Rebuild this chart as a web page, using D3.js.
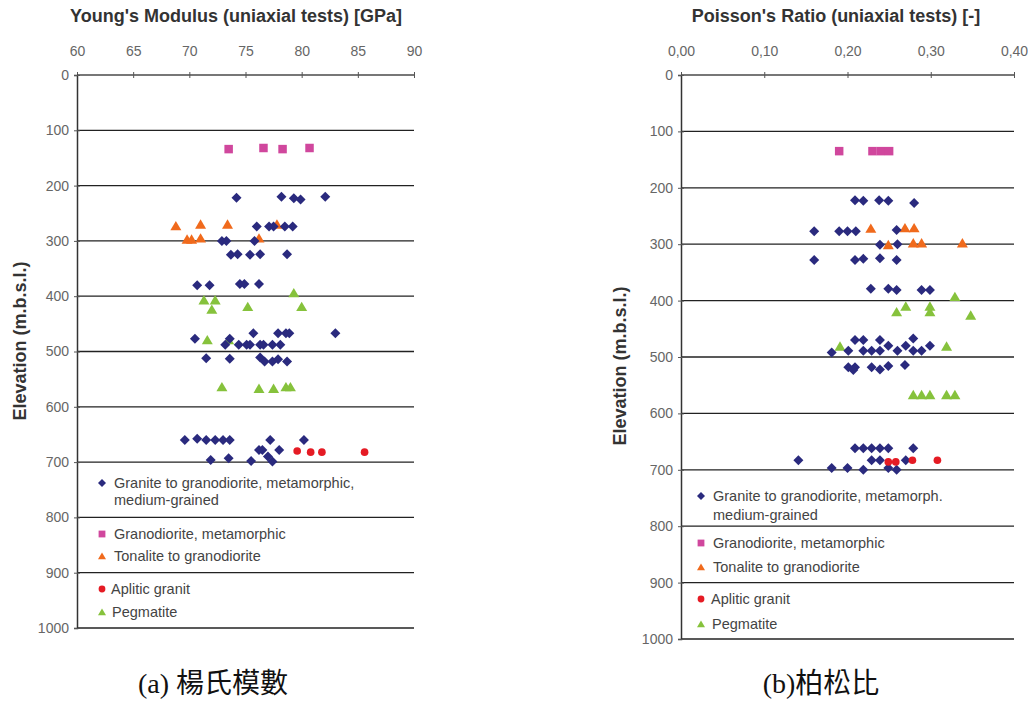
<!DOCTYPE html>
<html lang="en">
<head>
    <meta charset="utf-8">
    <title>Young's Modulus / Poisson's Ratio vs elevation</title>
    <script src="https://d3js.org/d3.v7.min.js"></script>
    <style>
        body { margin: 0; background: #fff; }
        text { font-family: "Liberation Sans", Arial, sans-serif; }
    </style>
</head>
<body>
<div id="chart"></div>

<script>
/* global d3 */

// elevation ticks (m.b.s.l.)
var elevTicks = [0, 100, 200, 300, 400, 500, 600, 700, 800, 900, 1000];
var ymTicks = [60, 65, 70, 75, 80, 85, 90];
var prTicks = [0, 0.1, 0.2, 0.3, 0.4];

// Young's modulus [GPa, elevation]
var ymGranite = [
    [74.2, 222], [78.2, 220], [79.3, 223], [79.9, 225], [82.1, 220],
    [76.0, 274], [77.1, 274], [77.5, 274], [78.5, 274], [79.2, 274],
    [72.9, 300], [73.3, 300], [75.8, 300],
    [73.7, 325], [74.3, 324], [75.4, 325], [76.3, 324], [78.7, 324],
    [70.7, 380], [71.8, 380], [74.5, 378], [74.9, 378], [76.2, 378],
    [75.7, 467], [77.9, 467], [78.6, 467], [78.9, 467], [83.0, 467],
    [70.5, 477], [73.6, 477],
    [73.2, 488], [74.4, 488], [75.1, 488], [75.4, 488], [76.3, 488], [76.6, 488], [77.4, 488], [78.1, 488],
    [71.5, 512], [73.6, 513], [76.3, 511], [76.7, 518], [77.4, 518], [77.9, 514], [78.7, 518],
    [69.6, 660], [70.7, 658], [71.5, 660], [72.3, 660], [73.0, 660], [73.6, 660], [77.2, 660], [80.2, 660],
    [76.2, 678], [76.5, 678], [78.0, 678], [77.0, 690],
    [71.9, 696], [73.5, 693], [75.5, 698], [77.4, 699]
];
var ymGranodiorite = [[73.5, 134], [76.6, 132], [78.3, 134], [80.7, 132]];
var ymTonalite = [
    [68.8, 273], [71.0, 270], [73.4, 270], [77.8, 270],
    [69.8, 297], [70.2, 297], [71.0, 295], [76.2, 295]
];
var ymAplitic = [[79.6, 680], [80.8, 682], [81.8, 682], [85.6, 682]];
var ymPegmatite = [
    [79.3, 394], [71.3, 407], [72.3, 407], [72.0, 424], [75.2, 419], [80.0, 419],
    [71.6, 479], [73.5, 479],
    [72.9, 564], [76.2, 567], [77.5, 567], [78.6, 564], [79.0, 564]
];

// Poisson's ratio [-, elevation]
var prGranite = [
    [0.209, 222], [0.219, 223], [0.238, 222], [0.249, 223], [0.280, 227],
    [0.160, 277], [0.190, 277], [0.200, 277], [0.210, 277], [0.259, 275],
    [0.239, 301], [0.260, 300],
    [0.160, 328], [0.209, 328], [0.219, 326], [0.239, 325], [0.259, 328],
    [0.228, 379], [0.249, 379], [0.259, 381], [0.289, 381], [0.299, 381],
    [0.209, 470], [0.219, 470], [0.239, 470], [0.279, 467],
    [0.249, 480], [0.270, 480], [0.299, 480],
    [0.181, 492], [0.201, 489], [0.219, 489], [0.229, 489], [0.239, 489], [0.260, 489], [0.279, 489], [0.289, 489],
    [0.201, 518], [0.209, 518], [0.207, 523], [0.229, 518], [0.239, 522], [0.249, 516], [0.269, 514],
    [0.209, 662], [0.219, 662], [0.229, 662], [0.239, 662], [0.249, 662], [0.279, 662],
    [0.141, 683], [0.229, 683], [0.239, 683], [0.270, 683],
    [0.181, 697], [0.200, 697], [0.219, 700], [0.249, 697], [0.259, 700]
];
var prGranodiorite = [[0.190, 135], [0.230, 135], [0.240, 135], [0.250, 135]];
var prTonalite = [
    [0.228, 272], [0.269, 271], [0.280, 271],
    [0.249, 301], [0.279, 298], [0.289, 298], [0.338, 298]
];
var prAplitic = [[0.249, 686], [0.258, 686], [0.278, 683], [0.308, 683]];
var prPegmatite = [
    [0.329, 393], [0.259, 420], [0.270, 410], [0.299, 410], [0.299, 420], [0.348, 426],
    [0.191, 481], [0.319, 481],
    [0.279, 567], [0.289, 567], [0.299, 567], [0.319, 567], [0.329, 567]
];

var colors = {
    granite: "#2a2a7e",
    granodiorite: "#d0479d",
    tonalite: "#f06a1c",
    aplitic: "#e51b24",
    pegmatite: "#86c23c"
};

var svg = d3.select("#chart").append("svg")
    .attr("width", 1028)
    .attr("height", 702);

svg.append("rect").attr("width", 1028).attr("height", 702).attr("fill", "#fff");

// draws one marker centred on x,y; size is roughly the marker width in px
function marker(g, shape, color, x, y, size) {
    var h = size / 2, p;
    if (shape === "circle") {
        g.append("circle").attr("cx", x).attr("cy", y).attr("r", h * 0.85).attr("fill", color);
        return;
    }
    if (shape === "diamond") {
        p = d3.path();
        p.moveTo(x, y - h); p.lineTo(x + h, y); p.lineTo(x, y + h); p.lineTo(x - h, y); p.closePath();
    } else if (shape === "square") {
        p = d3.path();
        p.rect(x - h * 0.85, y - h * 0.85, h * 1.7, h * 1.7);
    } else {
        p = d3.path();
        p.moveTo(x, y - h * 0.9); p.lineTo(x + h, y + h * 0.8); p.lineTo(x - h, y + h * 0.8); p.closePath();
    }
    g.append("path").attr("d", p.toString()).attr("fill", color);
}

function panel(opt) {
    var x = d3.scaleLinear().domain(opt.xDomain).range([opt.left, opt.right]);
    var y = d3.scaleLinear().domain([0, 1000]).range([75, opt.bottom]);
    var g = svg.append("g");

    // title
    g.append("text")
        .attr("x", opt.titleX).attr("y", 22)
        .attr("text-anchor", "middle")
        .attr("font-size", 18).attr("font-weight", "bold").attr("fill", "#333")
        .text(opt.title);

    // y label
    g.append("text")
        .attr("transform", "translate(" + opt.yLabelX + "," + opt.yLabelY + ") rotate(-90)")
        .attr("text-anchor", "middle")
        .attr("font-size", 18).attr("font-weight", "bold").attr("fill", "#333")
        .text("Elevation (m.b.s.l.)");

    // gridlines
    g.selectAll(".grid").data(elevTicks.slice(1)).enter().append("line")
        .attr("x1", opt.left).attr("x2", opt.right)
        .attr("y1", function(d) { return y(d); }).attr("y2", function(d) { return y(d); })
        .attr("stroke", "#222").attr("stroke-width", 1.3);

    // top axis
    var xAxis = d3.axisTop(x).tickValues(opt.xTicks).tickSize(3).tickFormat(opt.xFormat);
    var ax = g.append("g").attr("transform", "translate(0,75)").call(xAxis);
    ax.select(".domain").attr("stroke", "#777").attr("stroke-width", 2).attr("d", "M" + opt.left + ",0H" + opt.right);
    ax.selectAll(".tick line").attr("stroke", "#555").attr("y1", 3).attr("y2", -3);
    ax.selectAll(".tick text").attr("y", -19).attr("fill", "#666").attr("font-size", 14)
        .style("font-family", "'Liberation Sans', Arial, sans-serif");

    // left axis
    var yAxis = d3.axisLeft(y).tickValues(elevTicks).tickSize(3).tickFormat(d3.format("d"));
    var ay = g.append("g").attr("transform", "translate(" + opt.left + ",0)").call(yAxis);
    ay.select(".domain").attr("stroke", "#333").attr("stroke-width", 1.5);
    ay.selectAll(".tick line").attr("stroke", "#555").attr("x1", 3).attr("x2", -3);
    ay.selectAll(".tick text").attr("x", -8).attr("fill", "#666").attr("font-size", 14)
        .style("font-family", "'Liberation Sans', Arial, sans-serif");

    // points
    var pts = g.append("g");
    opt.series.forEach(function(s) {
        s.data.forEach(function(d) {
            marker(pts, s.shape, s.color, x(d[0]), y(d[1]), s.size);
        });
    });

    // legend
    var lg = g.append("g");
    opt.legend.forEach(function(l) {
        if (l.shape) marker(lg, l.shape, l.color, opt.legendX, l.y - 5, 8);
        lg.append("text")
            .attr("x", opt.legendX + (l.dx || 12)).attr("y", l.y)
            .attr("font-size", 14.5).attr("fill", "#444")
            .text(l.text);
    });

    // caption
    g.append("text")
        .attr("x", opt.captionX).attr("y", 693)
        .attr("text-anchor", "middle")
        .attr("font-size", 28).attr("fill", "#111")
        .style("font-family", "'Liberation Serif', 'Noto Sans CJK TC', serif")
        .text(opt.caption);
}

panel({
    xDomain: [60, 90], left: 77, right: 414, bottom: 628,
    xTicks: ymTicks, xFormat: d3.format("d"),
    title: "Young's Modulus (uniaxial tests) [GPa]", titleX: 236,
    yLabelX: 26, yLabelY: 341,
    series: [
        {data: ymGranodiorite, shape: "square", color: colors.granodiorite, size: 10},
        {data: ymTonalite, shape: "triangle", color: colors.tonalite, size: 11},
        {data: ymPegmatite, shape: "triangle", color: colors.pegmatite, size: 11},
        {data: ymGranite, shape: "diamond", color: colors.granite, size: 10},
        {data: ymAplitic, shape: "circle", color: colors.aplitic, size: 9}
    ],
    legendX: 102,
    legend: [
        {y: 488, shape: "diamond", color: colors.granite, text: "Granite to granodiorite, metamorphic,"},
        {y: 505, text: "medium-grained"},
        {y: 539, shape: "square", color: colors.granodiorite, text: "Granodiorite, metamorphic"},
        {y: 561, shape: "triangle", color: colors.tonalite, text: "Tonalite to granodiorite"},
        {y: 594, shape: "circle", color: colors.aplitic, text: "Aplitic granit", dx: 9},
        {y: 617, shape: "triangle", color: colors.pegmatite, text: "Pegmatite", dx: 10}
    ],
    caption: "(a) 楊氏模數", captionX: 213
});

panel({
    xDomain: [0, 0.4], left: 681, right: 1014, bottom: 639,
    xTicks: prTicks, xFormat: function(d) { return d3.format(".2f")(d).replace(".", ","); },
    title: "Poisson's Ratio (uniaxial tests) [-]", titleX: 836,
    yLabelX: 626, yLabelY: 366,
    series: [
        {data: prGranodiorite, shape: "square", color: colors.granodiorite, size: 10},
        {data: prTonalite, shape: "triangle", color: colors.tonalite, size: 11},
        {data: prPegmatite, shape: "triangle", color: colors.pegmatite, size: 11},
        {data: prGranite, shape: "diamond", color: colors.granite, size: 10},
        {data: prAplitic, shape: "circle", color: colors.aplitic, size: 9}
    ],
    legendX: 701,
    legend: [
        {y: 501, shape: "diamond", color: colors.granite, text: "Granite to granodiorite, metamorph."},
        {y: 520, text: "medium-grained"},
        {y: 548, shape: "square", color: colors.granodiorite, text: "Granodiorite, metamorphic"},
        {y: 572, shape: "triangle", color: colors.tonalite, text: "Tonalite to granodiorite"},
        {y: 604, shape: "circle", color: colors.aplitic, text: "Aplitic granit", dx: 10},
        {y: 629, shape: "triangle", color: colors.pegmatite, text: "Pegmatite", dx: 11}
    ],
    caption: "(b)柏松比", captionX: 821
});

</script>
</body>
</html>
